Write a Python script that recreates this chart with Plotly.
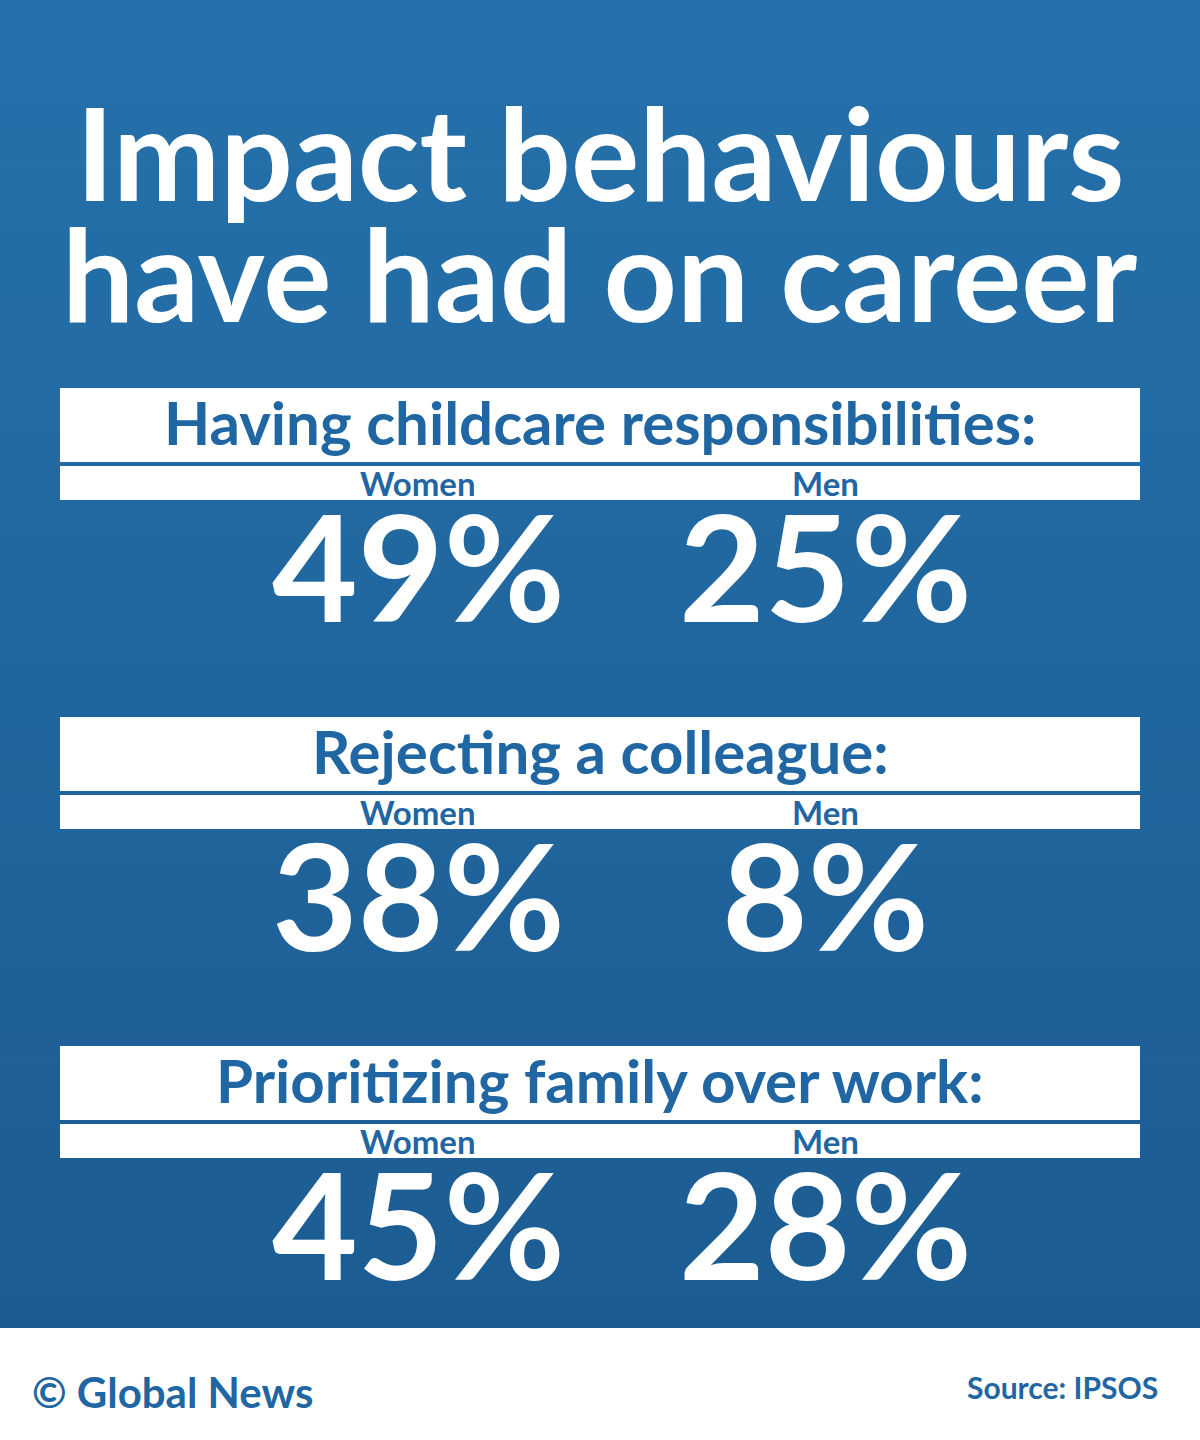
import plotly.graph_objects as go

title_lines = ["Impact behaviours", "have had on career"]
categories = ["Having childcare responsibilities:", "Rejecting a colleague:", "Prioritizing family over work:"]
women = [49, 38, 45]
men = [25, 8, 28]
group_labels = ["Women", "Men"]
credit = "© Global News"
source = "Source: IPSOS"

W, H = 1200, 1440
def px(x): return x / W
def py(y): return 1 - y / H

shapes = []
top = (37, 113, 171); bot = (28, 92, 146)
n = 40
for i in range(n):
    t = i / (n - 1)
    c = tuple(round(top[k] + (bot[k] - top[k]) * t) for k in range(3))
    shapes.append(dict(type="rect", xref="paper", yref="paper", x0=0, x1=1,
                       y0=py(1328 * (i + 1) / n + 1), y1=py(1328 * i / n),
                       fillcolor="rgb(%d,%d,%d)" % c, line_width=0, layer="below"))
shapes.append(dict(type="rect", xref="paper", yref="paper", x0=0, x1=1, y0=0, y1=py(1328),
                   fillcolor="white", line_width=0, layer="below"))

ann = []
blue = "#1f66a3"
ann.append(dict(text="<b>" + title_lines[0] + "</b>", x=0.5, y=py(152), font=dict(size=128, color="white", family="Lato")))
ann.append(dict(text="<b>" + title_lines[1] + "</b>", x=0.5, y=py(272), font=dict(size=128, color="white", family="Lato")))

for i, cat in enumerate(categories):
    o = 329 * i
    shapes.append(dict(type="rect", xref="paper", yref="paper", x0=px(60), x1=px(1140),
                       y0=py(462 + o), y1=py(388 + o), fillcolor="white", line_width=0))
    shapes.append(dict(type="rect", xref="paper", yref="paper", x0=px(60), x1=px(1140),
                       y0=py(500 + o), y1=py(466 + o), fillcolor="white", line_width=0))
    ann.append(dict(text="<b>" + cat + "</b>", x=0.5, y=py(422 + o), font=dict(size=60, color=blue, family="Lato")))
    for xc, lab, val in [(418, group_labels[0], women[i]), (825, group_labels[1], men[i])]:
        ann.append(dict(text="<b>" + lab + "</b>", x=px(xc), y=py(483 + o), font=dict(size=33, color=blue, family="Lato")))
        ann.append(dict(text="<b>%d%%</b>" % val, x=px(xc), y=py(565 + o), font=dict(size=148, color="white", family="Lato")))

ann.append(dict(text="<b>" + credit + "</b>", x=px(30), y=py(1392), xanchor="left", font=dict(size=42, color=blue, family="Lato")))
ann.append(dict(text="<b>" + source + "</b>", x=px(1160), y=py(1387), xanchor="right", font=dict(size=30, color=blue, family="Lato")))

for a in ann:
    a.update(xref="paper", yref="paper", showarrow=False)
    a.setdefault("xanchor", "center")
    a["yanchor"] = "middle"

fig = go.Figure()
fig.update_layout(width=W, height=H, margin=dict(l=0, r=0, t=0, b=0),
                  paper_bgcolor="white", plot_bgcolor="rgba(0,0,0,0)",
                  xaxis=dict(visible=False), yaxis=dict(visible=False),
                  shapes=shapes, annotations=ann)
fig.write_html("out.html", config={"displayModeBar": False},
               post_script="document.body.style.margin='0';document.body.style.padding='0';")
